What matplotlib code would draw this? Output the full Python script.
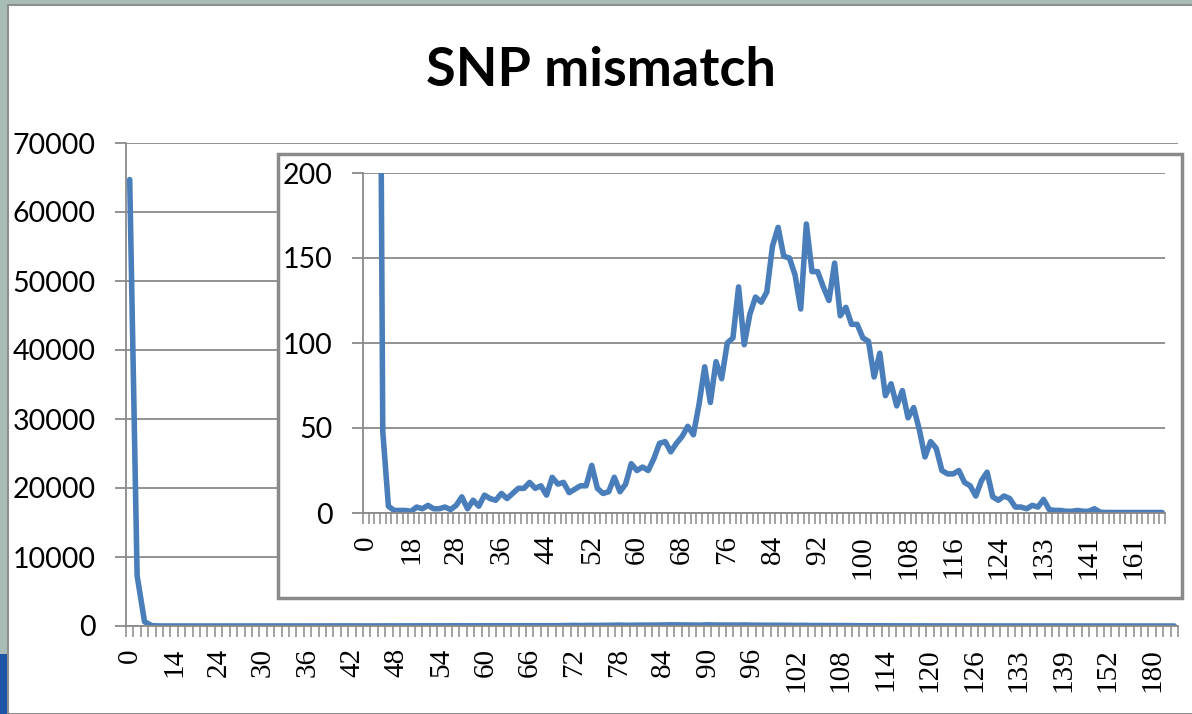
import numpy as np
import matplotlib
matplotlib.use("Agg")
import matplotlib.pyplot as plt
from matplotlib.patches import Rectangle

# mismatch categories (only the values present in the data), 142 of them
mismatch = ([0, 1, 2, 3, 4, 7, 14, 16, 18, 20, 21, 23]
            + list(range(24, 131)) + [132]
            + list(range(133, 142))
            + [143, 145, 149, 152, 154, 156, 158, 161, 170, 180, 185, 193, 210])

# number of SNP pairs per mismatch category
counts = [64700, 7300, 620, 48, 4, 1.5, 1.5, 1.5, 1, 3.5,
          2.5, 4.5, 2.5, 2.5, 3.5, 2, 4.5, 9.5, 2.5, 7.5,
          4, 10.5, 8.5, 7.5, 11.5, 8.5, 11.5, 14.5, 14.5, 18,
          14.5, 16, 10.5, 21, 17, 18, 12, 14, 16, 16,
          28, 14.5, 11.5, 12.5, 21, 12.5, 17, 29, 25, 27,
          25, 32, 41, 42, 36, 41, 45, 51, 46, 64,
          86, 65, 89, 79, 100, 103, 133, 99, 117, 127,
          124, 130, 157, 168, 151, 150, 140, 120, 170, 142,
          142, 133, 125, 147, 116, 121, 111, 111, 103, 101,
          80, 94, 69, 76, 63, 72, 56, 62, 49, 33,
          42, 38, 25, 23, 23, 25, 18, 16, 10, 19,
          24, 9.5, 7.5, 10, 8.5, 3.5, 3.5, 2.5, 4.5, 3.5,
          8, 2, 1.5, 1.5, 1, 1, 1.5, 1, 1, 2.5,
          0.5, 0.3, 0.3, 0.3, 0.3, 0.3, 0.3, 0.3, 0.3, 0.3,
          0.3, 0.3]

main_yticks = [0, 10000, 20000, 30000, 40000, 50000, 60000, 70000]
inset_yticks = [0, 50, 100, 150, 200]

W, H = 1192, 714
line_col = "#4a7ebb"
grid_col = "#8a8a8a"
n = len(counts)
x = np.arange(n)

fig = plt.figure(figsize=(W / 100, H / 100), dpi=100)
fig.patch.set_facecolor("#a7bdb5")
fig.add_artist(Rectangle((8 / W, 0), 1, 1 - 5 / H, transform=fig.transFigure,
                         facecolor="white", edgecolor="#8f8f8f", lw=1.5,
                         zorder=-5))
fig.add_artist(Rectangle((0, 0), 7 / W, 60 / H, transform=fig.transFigure,
                         facecolor="#1d56a6", edgecolor="none", zorder=-4))

fig.text(601 / W, 1 - 70 / H, "SNP mismatch", ha="center", va="center",
         fontsize=39, fontweight="bold", family="Lato")


def style_axes(ax, yticks, every, pad_x):
    ax.set_xlim(-0.5, n - 0.5)
    ax.set_ylim(0, yticks[-1])
    ax.set_yticks(yticks)
    ax.set_yticklabels([str(v) for v in yticks], family="Lato", fontsize=20.5)
    ax.tick_params(axis="y", length=8, width=1.3, color=grid_col, pad=14)
    ax.yaxis.grid(True, color=grid_col, lw=1.3)
    ax.set_axisbelow(True)
    ax.set_xticks(x[::every])
    ax.set_xticklabels([str(mismatch[i]) for i in x[::every]], rotation=90,
                       family="Liberation Serif", fontsize=21, va="top")
    ax.set_xticks(np.arange(-0.5, n, 1), minor=True)
    ax.tick_params(axis="x", which="major", length=0, pad=pad_x)
    ax.tick_params(axis="x", which="minor", length=8, width=1.1, color=grid_col)
    for s in ("top", "right"):
        ax.spines[s].set_visible(False)
    for s in ("left", "bottom"):
        ax.spines[s].set_color(grid_col)
        ax.spines[s].set_linewidth(1.3)


ax = fig.add_axes([126 / W, 1 - 626 / H, 1052 / W, 483 / H], zorder=1)
ax.patch.set_alpha(0)
ax.plot(x, counts, color=line_col, lw=4, solid_joinstyle="round",
        solid_capstyle="round")
style_axes(ax, main_yticks, 6, 16)

# zoomed inset on the low counts
fig.add_artist(Rectangle((278 / W, 1 - 598 / H), 904 / W, 444 / H,
                         transform=fig.transFigure, facecolor="white",
                         edgecolor="#8a8a8a", lw=2.5, zorder=3))
ax2 = fig.add_axes([363 / W, 1 - 513 / H, 802 / W, 340 / H], zorder=4)
ax2.patch.set_alpha(0)
ax2.plot(x, counts, color=line_col, lw=4, solid_joinstyle="round",
         solid_capstyle="round")
style_axes(ax2, inset_yticks, 8, 16)

fig.savefig("out.png", dpi=100, facecolor=fig.get_facecolor())
